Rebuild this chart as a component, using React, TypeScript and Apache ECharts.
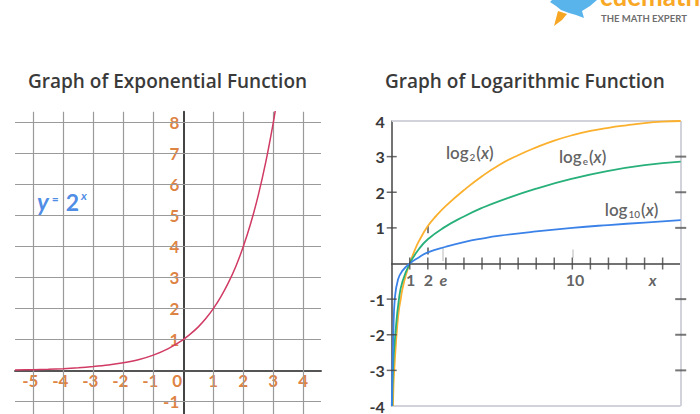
import React, { useEffect, useRef } from "react";
import * as echarts from "echarts";

// ---------- data ----------
const expX = [-5.61, -5, -4.5, -4, -3.5, -3, -2.5, -2, -1.5, -1, -0.5, 0, 0.25, 0.5, 0.75, 1, 1.25, 1.5, 1.75, 2, 2.25, 2.5, 2.75, 3, 3.1];
const expY = [0.02, 0.03, 0.04, 0.06, 0.09, 0.13, 0.18, 0.25, 0.35, 0.5, 0.71, 1, 1.19, 1.41, 1.68, 2, 2.38, 2.83, 3.36, 4, 4.76, 5.66, 6.73, 8, 8.6];
const expXTicks = [-5, -4, -3, -2, -1, 0, 1, 2, 3, 4];
const expYTicks = [-1, 1, 2, 3, 4, 5, 6, 7, 8];
const expGridX = [-5, -4, -3, -2, -1, 1, 2, 3, 4];
const expGridY = [-1, 1, 2, 3, 4, 5, 6, 7, 8];

const log2X = [0.07, 0.1, 0.14, 0.2, 0.3, 0.4, 0.5, 0.6, 0.8, 1, 1.25, 1.5, 2, 2.5, 3, 4, 5, 6, 7, 8, 9, 10, 11, 12, 13, 14, 15, 16];
const log2Y = [-4, -3.4, -3, -2.5, -1.8, -1.3, -1, -0.7, -0.3, 0, 0.34, 0.62, 1.05, 1.36, 1.62, 2.06, 2.45, 2.78, 3.04, 3.26, 3.45, 3.6, 3.72, 3.81, 3.88, 3.94, 3.98, 4.0];
const lnX = [0.03, 0.07, 0.2, 0.4, 0.6, 1, 1.5, 2, 2.86, 4, 5, 6, 8, 10, 12, 14, 16];
const lnY = [-4, -3, -2, -1, -0.5, 0, 0.4, 0.68, 1.0, 1.32, 1.56, 1.76, 2.1, 2.38, 2.6, 2.76, 2.86];
const log10X = [0.005, 0.04, 0.09, 0.17, 0.35, 0.6, 1, 1.5, 2, 3, 4, 5, 6, 8, 10, 12, 14, 16];
const log10Y = [-4, -3, -2, -1, -0.45, -0.2, 0, 0.17, 0.31, 0.47, 0.6, 0.7, 0.78, 0.9, 1.0, 1.08, 1.15, 1.22];

const logYTicks = [-3, -2, -1, 1, 2, 3];
const logXTicks = [1, 2, 3, 4, 5, 6, 7, 8, 9, 10, 11, 12, 13, 14, 15];
const logXLabels = ["1", "2", "e", "10", "x"];
const logXLabelPos = [1.05, 2.03, 2.86, 10.15, 14.45];
const guideDark = [[2, 0.25, 0.45], [2, 0.85, 1.05]];
const guideLight = [[2.8, 0.07, 0.44], [10, 0.16, 0.39]];

const titles = ["Graph of Exponential Function", "Graph of Logarithmic Function"];

// ---------- styles ----------
const ORANGE = "#d5620f";
const DARK = "#3a3a3a";
const FONT = "Lato, 'Noto Sans', sans-serif";
const TFONT = "'Open Sans', Lato, sans-serif";

export default function App() {
  const ref = useRef<HTMLDivElement>(null);
  useEffect(() => {
    document.body.style.margin = "0";
    const chart = echarts.init(ref.current!, null, { renderer: "svg" });
    const zip = (xs: number[], ys: number[]) => xs.map((x, i) => [x, ys[i]]);

    const expXLabelData = expXTicks.map((v) => ({
      value: [v, 0],
      label: { offset: [v === 0 ? -6 : v < 0 ? -3 : 0, 0], formatter: String(v) },
    }));
    const expYLabelData = expYTicks.map((v) => ({ value: [0, v], label: { formatter: String(v) } }));

    const option: any = {
      animation: false,
      title: [
        { text: titles[0], left: 28, top: 71, padding: 0, textStyle: { fontFamily: TFONT, fontSize: 19, fontWeight: 600, color: DARK } },
        { text: titles[1], left: 385, top: 71, padding: 0, textStyle: { fontFamily: TFONT, fontSize: 19, fontWeight: 600, color: DARK } },
      ],
      grid: [
        { left: 15, top: 111.7, width: 306, height: 302.3 },
        { left: 391.7, top: 121, width: 289, height: 289 },
      ],
      xAxis: [
        {
          gridIndex: 0, type: "value", min: -5.61, max: 4.59,
          axisLine: { show: true, onZero: true, lineStyle: { color: "#555", width: 2 } },
          axisTick: { show: false }, axisLabel: { show: false }, splitLine: { show: false },
        },
        {
          gridIndex: 1, type: "value", min: 0, max: 16, interval: 1,
          axisLine: { show: true, onZero: true, lineStyle: { color: "#444", width: 1.5 } },
          axisTick: { show: false }, axisLabel: { show: false }, splitLine: { show: false },
        },
      ],
      yAxis: [
        {
          gridIndex: 0, type: "value", min: -1.4, max: 8.35,
          axisLine: { show: true, onZero: true, lineStyle: { color: "#444", width: 2 } },
          axisTick: { show: false }, axisLabel: { show: false }, splitLine: { show: false },
        },
        {
          gridIndex: 1, type: "value", min: -4, max: 4, interval: 1,
          axisLine: { show: true, onZero: true, lineStyle: { color: "#444", width: 1.5 } },
          axisTick: { show: false }, splitLine: { show: false },
          axisLabel: {
            formatter: (v: number) => (v === 0 ? "" : String(v)),
            color: DARK, fontSize: 16, fontWeight: "bold", fontFamily: FONT, margin: 7,
          },
        },
      ],
      series: [
        // ---- exponential ----
        {
          type: "line", xAxisIndex: 0, yAxisIndex: 0, data: zip(expX, expY), smooth: 0.3,
          showSymbol: false, lineStyle: { color: "#d03a63", width: 1.5 }, z: 5,
          markLine: {
            silent: true, symbol: "none", label: { show: false },
            lineStyle: { color: "#9a9a9a", width: 1.2, type: "solid" },
            data: [...expGridX.map((v) => ({ xAxis: v })), ...expGridY.map((v) => ({ yAxis: v }))],
          },
        },
        {
          type: "scatter", xAxisIndex: 0, yAxisIndex: 0, symbolSize: 0, clip: false, data: expXLabelData,
          label: { show: true, position: "bottom", distance: 1, color: ORANGE, fontSize: 17, fontWeight: "bold", fontFamily: FONT },
        },
        {
          type: "scatter", xAxisIndex: 0, yAxisIndex: 0, symbolSize: 0, clip: false, data: expYLabelData,
          label: { show: true, position: "left", distance: 4, color: ORANGE, fontSize: 17, fontWeight: "bold", fontFamily: FONT },
        },
        {
          type: "scatter", xAxisIndex: 0, yAxisIndex: 0, symbolSize: 0, clip: false, data: [[-4.88, 5.45]],
          label: {
            show: true, position: "right", distance: 0,
            formatter: "{y|y}{eq|=}{n|2}{s|x}",
            rich: {
              y: { fontSize: 24, fontStyle: "italic", fontWeight: "bold", color: "#1f6fe0", fontFamily: FONT, padding: [0, 3, 0, 0] },
              eq: { fontSize: 12, fontWeight: "bold", color: "#1f6fe0", fontFamily: FONT, padding: [0, 7, 6, 0] },
              n: { fontSize: 23, fontWeight: "bold", color: "#1f6fe0", fontFamily: FONT },
              s: { fontSize: 12, fontStyle: "italic", fontWeight: "bold", color: "#1f6fe0", fontFamily: FONT, padding: [0, 0, 12, 2] },
            },
          },
        },
        // ---- logarithmic ----
        {
          type: "line", xAxisIndex: 1, yAxisIndex: 1, data: [], silent: true,
          markLine: {
            silent: true, symbol: "none", label: { show: false },
            lineStyle: { color: "#d2d2da", width: 2, type: "solid" },
            data: [{ yAxis: 4 }, { xAxis: 16 }, { yAxis: -4 }],
          },
        },
        {
          type: "line", xAxisIndex: 1, yAxisIndex: 1, data: [], silent: true,
          markLine: {
            silent: true, symbol: "none", label: { show: false },
            data: [
              ...guideDark.map((g) => [
                { coord: [g[0], g[1]], lineStyle: { color: "#555", width: 1.5, type: "solid" } },
                { coord: [g[0], g[2]] },
              ]),
              ...guideLight.map((g) => [
                { coord: [g[0], g[1]], lineStyle: { color: "#cfcfcf", width: 1.5, type: "solid" } },
                { coord: [g[0], g[2]] },
              ]),
            ],
          },
        },
        {
          type: "line", xAxisIndex: 1, yAxisIndex: 1, data: zip(log2X, log2Y), smooth: 0.5,
          showSymbol: false, lineStyle: { color: "#fbb02d", width: 1.8 }, z: 5,
        },
        {
          type: "line", xAxisIndex: 1, yAxisIndex: 1, data: zip(lnX, lnY), smooth: 0.5,
          showSymbol: false, lineStyle: { color: "#27b07a", width: 1.8 }, z: 5,
        },
        {
          type: "line", xAxisIndex: 1, yAxisIndex: 1, data: zip(log10X, log10Y), smooth: 0.5,
          showSymbol: false, lineStyle: { color: "#3a82e8", width: 1.8 }, z: 5,
        },
        {
          type: "scatter", xAxisIndex: 1, yAxisIndex: 1, symbol: "rect", symbolSize: [10, 1.5], clip: false,
          data: logYTicks.map((v) => [0, v]), itemStyle: { color: "#444" }, z: 6,
        },
        {
          type: "scatter", xAxisIndex: 1, yAxisIndex: 1, symbol: "rect", symbolSize: [11, 2], clip: false,
          data: logYTicks.map((v) => [16, v]), itemStyle: { color: "#555" }, z: 6,
        },
        {
          type: "scatter", xAxisIndex: 1, yAxisIndex: 1, symbol: "rect", symbolSize: [1.5, 12], clip: false,
          data: logXTicks.map((v) => [v, 0]), itemStyle: { color: "#444" }, z: 6,
        },
        {
          type: "scatter", xAxisIndex: 1, yAxisIndex: 1, symbolSize: 0, clip: false,
          data: logXLabels.map((t, i) => ({ value: [logXLabelPos[i], 0], label: { formatter: t, fontStyle: t === "e" || t === "x" ? "italic" : "normal" } })),
          label: { show: true, position: "bottom", distance: 8, color: DARK, fontSize: 16, fontWeight: "bold", fontFamily: FONT },
        },
        {
          type: "scatter", xAxisIndex: 1, yAxisIndex: 1, symbolSize: 0, clip: false,
          data: [
            { value: [3.0, 3.12], label: { formatter: "{t|log}{s|2}{t|(}{i|x}{t|)}" } },
            { value: [9.26, 3.01], label: { formatter: "{t|log}{s|e}{t|(}{i|x}{t|)}" } },
            { value: [11.8, 1.52], label: { formatter: "{t|log}{s|10}{t|(}{i|x}{t|)}" } },
          ],
          label: {
            show: true, position: "right", distance: 0,
            rich: {
              t: { fontSize: 17, color: DARK, fontFamily: FONT, fontWeight: 600 },
              i: { fontSize: 17, color: DARK, fontFamily: FONT, fontStyle: "italic", fontWeight: 600 },
              s: { fontSize: 10, color: DARK, fontFamily: FONT, fontWeight: 600, padding: [10, 1, 0, 1] },
            },
          },
        },
      ],
      graphic: [
        { type: "polygon", shape: { points: [[552, 0], [597, 0], [590, 6], [582, 11], [584, 18], [576, 15], [569, 13], [561, 10], [556, 6], [550, 2]] }, style: { fill: "#5ab4ec" } },
        { type: "polygon", shape: { points: [[558, 11], [567, 14], [562, 20], [554, 26]] }, style: { fill: "#f6a623" } },
        { type: "text", x: 600, y: -17, style: { text: "cuemath", fill: "#f9a825", font: "bold 26px Lato, sans-serif", verticalAlign: "top" } },
        { type: "text", x: 601, y: 18, style: { text: "THE MATH EXPERT", fill: "#6e6e6e", font: "bold 9.5px Lato, sans-serif", verticalAlign: "middle" } },
      ],
    };
    chart.setOption(option);
    return () => chart.dispose();
  }, []);
  return <div ref={ref} style={{ width: 700, height: 414 }} />;
}
